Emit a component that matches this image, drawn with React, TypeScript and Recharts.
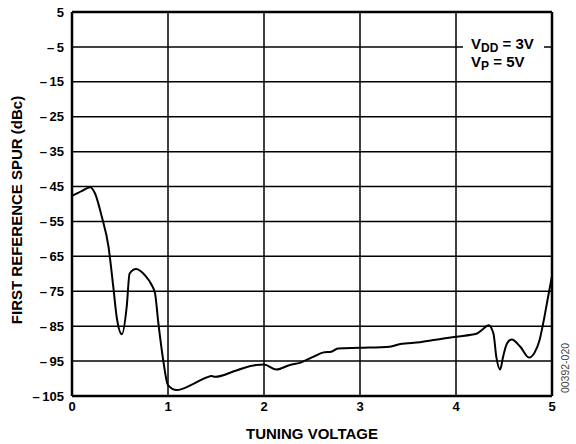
import React from 'react';
import { LineChart, Line, XAxis, YAxis, CartesianGrid, ReferenceLine } from 'recharts';

// tuning voltage (V) and first reference spur (dBc)
const voltage = [
  0, 0.1, 0.19, 0.24, 0.31, 0.38, 0.43, 0.465, 0.52, 0.57, 0.6, 0.667, 0.76, 0.83, 0.865, 0.9, 0.95,
  1.0, 1.09, 1.26, 1.4, 1.455, 1.49, 1.72, 1.92, 2.0, 2.13, 2.27, 2.375, 2.51, 2.62, 2.7, 2.77,
  3.0, 3.31, 3.42, 3.625, 3.87, 4.0, 4.22, 4.27, 4.34, 4.39, 4.42, 4.46, 4.49, 4.53, 4.58, 4.67,
  4.76, 4.82, 4.87, 4.92, 4.96, 5.0,
];
const spur = [
  -47.7, -46.3, -45.2, -47, -53.6, -62.2, -73.7, -82.3, -87.3, -79.4, -69.9, -68.6, -70.4, -73.2, -75.6, -84.2, -94.7,
  -101.9, -103.3, -101.6, -99.7, -99.3, -99.5, -97.6, -96.1, -96, -97.4, -96.1, -95.5, -93.8, -92.5, -92.3, -91.4,
  -91.2, -90.9, -90.1, -89.6, -88.5, -88.0, -87.1, -86.1, -84.7, -87.1, -93.8, -97.4, -93.8, -90.0, -88.8, -90.9,
  -94.0, -92.5, -89.0, -82.5, -76.5, -70.6,
];
const xTicks = [0, 1, 2, 3, 4, 5];
const yTicks = [5, -5, -15, -25, -35, -45, -55, -65, -75, -85, -95, -105];

const data = voltage.map((v, i) => ({ v, spur: spur[i] }));

const FONT = '"Liberation Sans", Arial, Helvetica, sans-serif';
const tickStyle = { fontFamily: FONT, fontSize: 13, fontWeight: 700, fill: '#000' };

export default function App() {
  return (
    <div style={{ position: 'absolute', left: 0, top: 0, width: 576, height: 444, background: '#fff', fontFamily: FONT }}>
      <LineChart width={576} height={444} data={data} margin={{ top: 12, right: 24, bottom: 18, left: 22 }}>
        <CartesianGrid stroke="#000" strokeWidth={1.5} horizontalValues={yTicks} verticalValues={xTicks} />
        <XAxis
          dataKey="v"
          type="number"
          domain={[0, 5]}
          ticks={xTicks}
          height={30}
          tickLine={false}
          axisLine={{ stroke: '#000', strokeWidth: 2.5 }}
          tick={tickStyle}
          tickMargin={0}
        />
        <YAxis
          type="number"
          domain={[-105, 5]}
          ticks={yTicks}
          width={50}
          tickLine={false}
          axisLine={{ stroke: '#000', strokeWidth: 2.5 }}
          tick={tickStyle}
          tickMargin={2}
          tickFormatter={(t: number) => String(t).replace('-', '\u2013\u2009')}
        />
        <ReferenceLine y={5} stroke="#000" strokeWidth={2.5} />
        <ReferenceLine x={5} stroke="#000" strokeWidth={2.5} />
        <Line
          type="monotone"
          dataKey="spur"
          stroke="#000"
          strokeWidth={2}
          dot={false}
          isAnimationActive={false}
        />
      </LineChart>

      {/* supply annotation, sits on a white patch over the gridline */}
      <div style={{
        position: 'absolute', left: 463, top: 30, width: 81, height: 36, background: '#fff',
        fontSize: 15, fontWeight: 700, lineHeight: '18px', paddingLeft: 8, paddingTop: 5, boxSizing: 'border-box',
      }}>
        <div style={{ height: 18 }}>V<sub style={{ fontSize: 12, verticalAlign: -3, lineHeight: 0 }}>DD</sub> = 3V</div>
        <div style={{ height: 18 }}>V<sub style={{ fontSize: 12, verticalAlign: -3, lineHeight: 0 }}>P</sub> = 5V</div>
      </div>

      <div style={{
        position: 'absolute', left: 16, top: 210, transform: 'translate(-50%, -50%) rotate(-90deg)',
        whiteSpace: 'nowrap', fontSize: 15, fontWeight: 700,
      }}>
        FIRST REFERENCE SPUR (dBc)
      </div>

      <div style={{
        position: 'absolute', left: 312, top: 433, transform: 'translate(-50%, -50%)',
        whiteSpace: 'nowrap', fontSize: 15, fontWeight: 700,
      }}>
        TUNING VOLTAGE
      </div>

      <div style={{
        position: 'absolute', left: 565, top: 368, transform: 'translate(-50%, -50%) rotate(-90deg)',
        whiteSpace: 'nowrap', fontSize: 10.5, color: '#444',
      }}>
        00392-020
      </div>
    </div>
  );
}
